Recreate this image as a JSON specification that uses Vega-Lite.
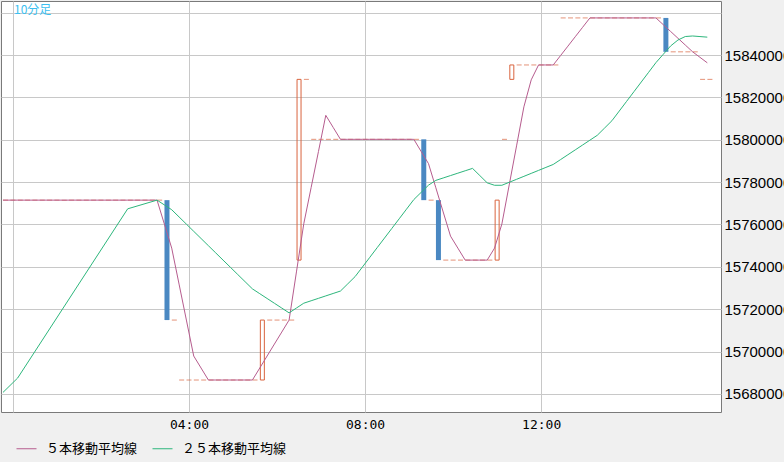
{
  "$schema": "https://vega.github.io/schema/vega-lite/v6.json",
  "width": 720,
  "height": 411,
  "autosize": "none",
  "padding": {"left": 1, "top": 1, "right": 63, "bottom": 50},
  "background": "#f0f0f0",
  "config": {
    "view": {"fill": "#ffffff", "stroke": "#7a7a7a", "strokeWidth": 1},
    "axis": {"gridColor": "#c8c8c8", "gridWidth": 1, "ticks": false, "domain": false, "title": null, "labelColor": "#000000", "labelOverlap": false, "labelFlush": false}
  },
  "title": {"text": "10分足", "anchor": "start", "frame": "group", "orient": "top", "offset": -16, "dx": 13, "baseline": "top", "fontSize": 12, "fontWeight": "normal", "font": "Noto Sans CJK JP", "color": "#3cbff0"},
  "datasets": {
    "bars": [
      {"t": -10, "o": 15771500, "c": 15771500}, {"t": 0, "o": 15771500, "c": 15771500}, {"t": 10, "o": 15771500, "c": 15771500},
      {"t": 20, "o": 15771500, "c": 15771500}, {"t": 30, "o": 15771500, "c": 15771500}, {"t": 40, "o": 15771500, "c": 15771500},
      {"t": 50, "o": 15771500, "c": 15771500}, {"t": 60, "o": 15771500, "c": 15771500}, {"t": 70, "o": 15771500, "c": 15771500},
      {"t": 80, "o": 15771500, "c": 15771500}, {"t": 90, "o": 15771500, "c": 15771500}, {"t": 100, "o": 15771500, "c": 15771500},
      {"t": 110, "o": 15771500, "c": 15771500}, {"t": 120, "o": 15771500, "c": 15771500}, {"t": 130, "o": 15771500, "c": 15771500},
      {"t": 140, "o": 15771500, "c": 15771500}, {"t": 150, "o": 15771500, "c": 15771500}, {"t": 160, "o": 15771500, "c": 15771500},
      {"t": 170, "o": 15771500, "c": 15771500}, {"t": 180, "o": 15771500, "c": 15771500}, {"t": 190, "o": 15771500, "c": 15771500},
      {"t": 200, "o": 15771500, "c": 15771500},
      {"t": 210, "o": 15771500, "c": 15714900},
      {"t": 220, "o": 15714900, "c": 15714900},
      {"t": 230, "o": 15686600, "c": 15686600}, {"t": 240, "o": 15686600, "c": 15686600}, {"t": 250, "o": 15686600, "c": 15686600},
      {"t": 260, "o": 15686600, "c": 15686600}, {"t": 270, "o": 15686600, "c": 15686600}, {"t": 280, "o": 15686600, "c": 15686600},
      {"t": 290, "o": 15686600, "c": 15686600}, {"t": 300, "o": 15686600, "c": 15686600}, {"t": 310, "o": 15686600, "c": 15686600},
      {"t": 320, "o": 15686600, "c": 15686600}, {"t": 330, "o": 15686600, "c": 15686600},
      {"t": 340, "o": 15686600, "c": 15714900},
      {"t": 350, "o": 15714900, "c": 15714900}, {"t": 360, "o": 15714900, "c": 15714900}, {"t": 370, "o": 15714900, "c": 15714900},
      {"t": 380, "o": 15714900, "c": 15714900},
      {"t": 390, "o": 15743200, "c": 15828500},
      {"t": 400, "o": 15828500, "c": 15828500},
      {"t": 410, "o": 15800200, "c": 15800200}, {"t": 420, "o": 15800200, "c": 15800200}, {"t": 430, "o": 15800200, "c": 15800200},
      {"t": 440, "o": 15800200, "c": 15800200}, {"t": 450, "o": 15800200, "c": 15800200}, {"t": 460, "o": 15800200, "c": 15800200},
      {"t": 470, "o": 15800200, "c": 15800200}, {"t": 480, "o": 15800200, "c": 15800200}, {"t": 490, "o": 15800200, "c": 15800200},
      {"t": 500, "o": 15800200, "c": 15800200}, {"t": 510, "o": 15800200, "c": 15800200}, {"t": 520, "o": 15800200, "c": 15800200},
      {"t": 530, "o": 15800200, "c": 15800200}, {"t": 540, "o": 15800200, "c": 15800200}, {"t": 550, "o": 15800200, "c": 15800200},
      {"t": 560, "o": 15800200, "c": 15771500},
      {"t": 570, "o": 15771500, "c": 15771500},
      {"t": 580, "o": 15771500, "c": 15743200},
      {"t": 590, "o": 15743200, "c": 15743200}, {"t": 600, "o": 15743200, "c": 15743200}, {"t": 610, "o": 15743200, "c": 15743200},
      {"t": 620, "o": 15743200, "c": 15743200}, {"t": 630, "o": 15743200, "c": 15743200}, {"t": 640, "o": 15743200, "c": 15743200},
      {"t": 650, "o": 15743200, "c": 15743200},
      {"t": 660, "o": 15743200, "c": 15771500},
      {"t": 670, "o": 15800200, "c": 15800200},
      {"t": 680, "o": 15828500, "c": 15835300},
      {"t": 690, "o": 15835300, "c": 15835300}, {"t": 700, "o": 15835300, "c": 15835300}, {"t": 710, "o": 15835300, "c": 15835300},
      {"t": 720, "o": 15835300, "c": 15835300}, {"t": 730, "o": 15835300, "c": 15835300}, {"t": 740, "o": 15835300, "c": 15835300},
      {"t": 750, "o": 15857500, "c": 15857500}, {"t": 760, "o": 15857500, "c": 15857500}, {"t": 770, "o": 15857500, "c": 15857500},
      {"t": 780, "o": 15857500, "c": 15857500}, {"t": 790, "o": 15857500, "c": 15857500}, {"t": 800, "o": 15857500, "c": 15857500},
      {"t": 810, "o": 15857500, "c": 15857500}, {"t": 820, "o": 15857500, "c": 15857500}, {"t": 830, "o": 15857500, "c": 15857500},
      {"t": 840, "o": 15857500, "c": 15857500}, {"t": 850, "o": 15857500, "c": 15857500}, {"t": 860, "o": 15857500, "c": 15857500},
      {"t": 870, "o": 15857500, "c": 15857500}, {"t": 880, "o": 15857500, "c": 15857500},
      {"t": 890, "o": 15857500, "c": 15841500},
      {"t": 900, "o": 15841500, "c": 15841500}, {"t": 910, "o": 15841500, "c": 15841500}, {"t": 920, "o": 15841500, "c": 15841500},
      {"t": 930, "o": 15841500, "c": 15841500},
      {"t": 940, "o": 15828500, "c": 15828500}, {"t": 950, "o": 15828500, "c": 15828500}
    ],
    "ma": [
      {"t": -10, "ma5": 15771500, "ma25": 15680740},
      {"t": 10, "ma5": 15771500, "ma25": 15687530},
      {"t": 160, "ma5": 15771500, "ma25": 15767400},
      {"t": 200, "ma5": 15771500, "ma25": 15771500},
      {"t": 210, "ma5": 15760180, "ma25": 15769236},
      {"t": 220, "ma5": 15748860, "ma25": 15766972},
      {"t": 230, "ma5": 15731880, "ma25": 15763576},
      {"t": 240, "ma5": 15714900, "ma25": 15760180},
      {"t": 250, "ma5": 15697920, "ma25": 15756784},
      {"t": 260, "ma5": 15692260, "ma25": 15753388},
      {"t": 270, "ma5": 15686600, "ma25": 15749992},
      {"t": 280, "ma5": 15686600, "ma25": 15746596},
      {"t": 290, "ma5": 15686600, "ma25": 15743200},
      {"t": 300, "ma5": 15686600, "ma25": 15739804},
      {"t": 310, "ma5": 15686600, "ma25": 15736408},
      {"t": 320, "ma5": 15686600, "ma25": 15733012},
      {"t": 330, "ma5": 15686600, "ma25": 15729616},
      {"t": 340, "ma5": 15692260, "ma25": 15727352},
      {"t": 350, "ma5": 15697920, "ma25": 15725088},
      {"t": 360, "ma5": 15703580, "ma25": 15722824},
      {"t": 370, "ma5": 15709240, "ma25": 15720560},
      {"t": 380, "ma5": 15714900, "ma25": 15718296},
      {"t": 390, "ma5": 15737620, "ma25": 15720576},
      {"t": 400, "ma5": 15760340, "ma25": 15722856},
      {"t": 410, "ma5": 15777400, "ma25": 15724004},
      {"t": 420, "ma5": 15794460, "ma25": 15725152},
      {"t": 430, "ma5": 15811520, "ma25": 15726300},
      {"t": 440, "ma5": 15805860, "ma25": 15727448},
      {"t": 450, "ma5": 15800200, "ma25": 15728596},
      {"t": 460, "ma5": 15800200, "ma25": 15732008},
      {"t": 470, "ma5": 15800200, "ma25": 15735420},
      {"t": 480, "ma5": 15800200, "ma25": 15739964},
      {"t": 490, "ma5": 15800200, "ma25": 15744508},
      {"t": 500, "ma5": 15800200, "ma25": 15749052},
      {"t": 510, "ma5": 15800200, "ma25": 15753596},
      {"t": 520, "ma5": 15800200, "ma25": 15758140},
      {"t": 530, "ma5": 15800200, "ma25": 15762684},
      {"t": 540, "ma5": 15800200, "ma25": 15767228},
      {"t": 550, "ma5": 15800200, "ma25": 15771772},
      {"t": 560, "ma5": 15794460, "ma25": 15775168},
      {"t": 570, "ma5": 15788720, "ma25": 15778564},
      {"t": 580, "ma5": 15777320, "ma25": 15780828},
      {"t": 590, "ma5": 15765920, "ma25": 15781960},
      {"t": 600, "ma5": 15754520, "ma25": 15783092},
      {"t": 610, "ma5": 15748860, "ma25": 15784224},
      {"t": 620, "ma5": 15743200, "ma25": 15785356},
      {"t": 630, "ma5": 15743200, "ma25": 15786488},
      {"t": 640, "ma5": 15743200, "ma25": 15783076},
      {"t": 650, "ma5": 15743200, "ma25": 15779664},
      {"t": 660, "ma5": 15748860, "ma25": 15778516},
      {"t": 670, "ma5": 15760260, "ma25": 15778516},
      {"t": 680, "ma5": 15778680, "ma25": 15779920},
      {"t": 690, "ma5": 15797100, "ma25": 15781324},
      {"t": 700, "ma5": 15815520, "ma25": 15782728},
      {"t": 710, "ma5": 15828280, "ma25": 15784132},
      {"t": 720, "ma5": 15835300, "ma25": 15785536},
      {"t": 730, "ma5": 15835300, "ma25": 15786940},
      {"t": 740, "ma5": 15835300, "ma25": 15788344},
      {"t": 750, "ma5": 15839740, "ma25": 15790636},
      {"t": 760, "ma5": 15844180, "ma25": 15792928},
      {"t": 770, "ma5": 15848620, "ma25": 15795220},
      {"t": 780, "ma5": 15853060, "ma25": 15797512},
      {"t": 790, "ma5": 15857500, "ma25": 15799804},
      {"t": 800, "ma5": 15857500, "ma25": 15802096},
      {"t": 810, "ma5": 15857500, "ma25": 15805536},
      {"t": 820, "ma5": 15857500, "ma25": 15808976},
      {"t": 830, "ma5": 15857500, "ma25": 15813548},
      {"t": 840, "ma5": 15857500, "ma25": 15818120},
      {"t": 850, "ma5": 15857500, "ma25": 15822692},
      {"t": 860, "ma5": 15857500, "ma25": 15827264},
      {"t": 870, "ma5": 15857500, "ma25": 15831836},
      {"t": 880, "ma5": 15857500, "ma25": 15836408},
      {"t": 890, "ma5": 15854300, "ma25": 15840340},
      {"t": 900, "ma5": 15851100, "ma25": 15844272},
      {"t": 910, "ma5": 15847900, "ma25": 15847072},
      {"t": 920, "ma5": 15844700, "ma25": 15848724},
      {"t": 930, "ma5": 15841500, "ma25": 15848972},
      {"t": 940, "ma5": 15838900, "ma25": 15848700},
      {"t": 950, "ma5": 15836300, "ma25": 15848428}
    ]
  },
  "layer": [
    {
      "data": {"name": "bars"},
      "transform": [{"filter": "datum.o > datum.c"}],
      "mark": {"type": "bar", "width": 5, "color": "#4a88c2"},
      "encoding": {
        "x": {"field": "t", "type": "quantitative",
          "scale": {"domain": [-9.41, 958.3], "nice": false, "zero": false},
          "axis": {"values": [0, 240, 480, 720], "grid": true, "labelPadding": 6, "labelFont": "DejaVu Sans Mono", "labelFontSize": 13,
            "labelExpr": "datum.value == 0 ? '' : (datum.value < 600 ? '0' : '') + (datum.value / 60) + ':00'"}},
        "y": {"field": "o", "type": "quantitative",
          "scale": {"domain": [15671504, 15865487], "nice": false, "zero": false},
          "axis": {"orient": "right", "values": [15680000, 15700000, 15720000, 15740000, 15760000, 15780000, 15800000, 15820000, 15840000, 15860000],
            "grid": true, "format": "d", "labelPadding": 3, "labelFont": "Liberation Sans", "labelFontSize": 15, "labelBaseline": "middle",
            "labelExpr": "datum.value >= 15860000 ? '' : datum.label"}},
        "y2": {"field": "c"}
      }
    },
    {
      "data": {"name": "bars"},
      "transform": [{"filter": "datum.c > datum.o"}],
      "mark": {"type": "bar", "width": 4, "filled": false, "color": "#d9643e", "strokeWidth": 1},
      "encoding": {
        "x": {"field": "t", "type": "quantitative"},
        "y": {"field": "o", "type": "quantitative"},
        "y2": {"field": "c"}
      }
    },
    {
      "data": {"name": "bars"},
      "transform": [{"filter": "datum.c == datum.o"}],
      "mark": {"type": "tick", "orient": "horizontal", "size": 5, "thickness": 1, "color": "#d9643e"},
      "encoding": {
        "x": {"field": "t", "type": "quantitative"},
        "y": {"field": "c", "type": "quantitative"}
      }
    },
    {
      "data": {"name": "ma"},
      "mark": {"type": "line", "strokeWidth": 1, "xOffset": -2.6},
      "encoding": {
        "x": {"field": "t", "type": "quantitative"},
        "y": {"field": "ma5", "type": "quantitative"},
        "color": {"datum": "５本移動平均線", "type": "nominal",
          "scale": {"domain": ["５本移動平均線", "２５本移動平均線"], "range": ["#b65c8e", "#2db67c"]},
          "legend": {"title": null, "orient": "none", "legendX": 15, "legendY": 437, "direction": "horizontal", "padding": 0,
            "symbolType": "stroke", "symbolSize": 400, "symbolStrokeWidth": 1, "labelOffset": 9, "columnPadding": 12,
            "labelFont": "Noto Sans CJK JP", "labelFontSize": 13, "labelColor": "#000000"}}
      }
    },
    {
      "data": {"name": "ma"},
      "mark": {"type": "line", "strokeWidth": 1, "xOffset": -2.6},
      "encoding": {
        "x": {"field": "t", "type": "quantitative"},
        "y": {"field": "ma25", "type": "quantitative"},
        "color": {"datum": "２５本移動平均線", "type": "nominal"}
      }
    }
  ]
}
